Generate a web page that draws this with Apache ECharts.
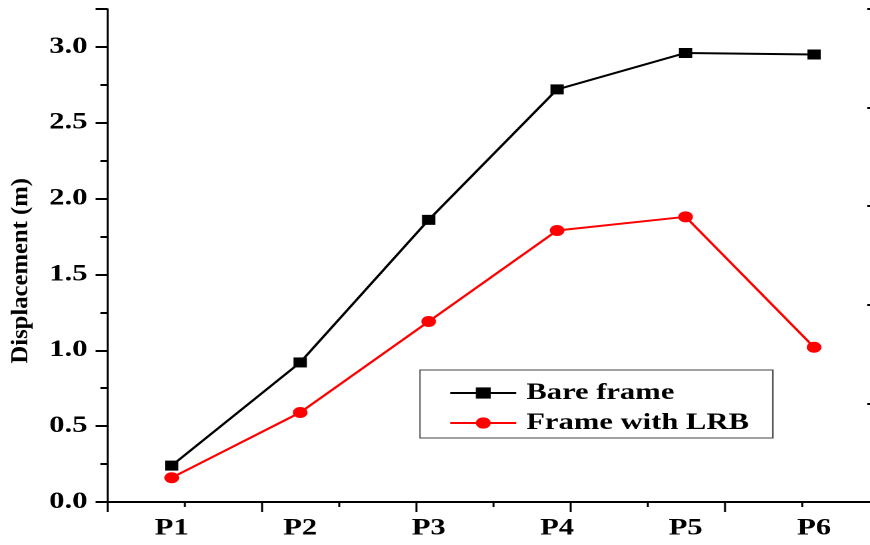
<!DOCTYPE html>
<html>
<head>
<meta charset="utf-8">
<script src="https://cdn.jsdelivr.net/npm/echarts@6/dist/echarts.min.js"></script>
<style>
  html, body { margin: 0; padding: 0; background: #fff; overflow: hidden; }
  /* the reference is a horizontally stretched Origin plot, so draw narrow and stretch */
  #chart { width: 654px; height: 545px; transform: scaleX(1.3303); transform-origin: 0 0; }
</style>
</head>
<body>
<div id="chart"></div>
<script>
const categories = ['P1', 'P2', 'P3', 'P4', 'P5', 'P6']
const bareFrame = [0.24, 0.92, 1.86, 2.72, 2.96, 2.95]
const frameLRB = [0.16, 0.59, 1.19, 1.79, 1.88, 1.02]
const seriesNames = ['Bare frame', 'Frame with LRB']
const yTitle = 'Displacement (m)'

const font = "'Liberation Serif', 'Times New Roman', Times, serif"
const black = '#000'

const chart = echarts.init(document.getElementById('chart'), null, { renderer: 'canvas', devicePixelRatio: 2 })

chart.setOption({
  animation: false,
  backgroundColor: '#fff',
  grid: { left: 80.8, top: 9, width: 579.4, height: 493, outerBoundsMode: 'none', containLabel: false },
  legend: {
    orient: 'vertical',
    left: 315.7, top: 370,
    padding: [11, 18, 3, 21.8],
    itemWidth: 49.6, itemHeight: 14, itemGap: 6,
    borderColor: '#444', borderWidth: 1,
    textStyle: { fontFamily: font, fontWeight: 'bold', fontSize: 23, color: black, lineHeight: 24, padding: [0, 0, 0, 2.5] },
    data: seriesNames
  },
  graphic: [{
    type: 'text', x: 15.8, y: 270.8, rotation: Math.PI / 2, scaleX: 1.37,
    style: { text: yTitle, fontFamily: font, fontWeight: 'bold', fontSize: 18, fill: black, align: 'center', verticalAlign: 'middle' }
  }],
  xAxis: [
    { // bottom axis with labels
      type: 'category', data: categories, position: 'bottom', boundaryGap: true,
      axisLine: { lineStyle: { color: black, width: 2 } },
      axisTick: { alignWithLabel: true, length: 10, lineStyle: { color: black, width: 1.5 } },
      axisLabel: { color: black, fontFamily: font, fontWeight: 'bold', fontSize: 23, margin: 15 },
      splitLine: { show: false }
    },
    { // short ticks between categories
      type: 'category', data: categories, position: 'bottom', boundaryGap: true,
      axisLine: { show: false },
      axisTick: { alignWithLabel: false, length: 5, lineStyle: { color: black, width: 1.5 } },
      axisLabel: { show: false },
      splitLine: { show: false }
    },
    { // top frame axis
      type: 'value', position: 'top', min: 0, max: 5, interval: 1,
      axisLine: { show: true, lineStyle: { color: black, width: 2 } },
      axisTick: { show: true, inside: true, length: 10, lineStyle: { color: black, width: 1.5 } },
      minorTick: { show: true, splitNumber: 2, length: 5, lineStyle: { color: black, width: 1.5 } },
      axisLabel: { show: false },
      splitLine: { show: false }
    }
  ],
  yAxis: [
    {
      type: 'value', position: 'left', min: 0, max: 3.25, interval: 0.5,
      axisLine: { show: true, lineStyle: { color: black, width: 1.5 } },
      axisTick: { show: true, length: 9, lineStyle: { color: black, width: 2 } },
      axisLabel: {
        color: black, fontFamily: font, fontWeight: 'bold', fontSize: 23, margin: 15,
        formatter: v => (Math.abs(v * 2 - Math.round(v * 2)) < 1e-6 ? v.toFixed(1) : '')
      },
      splitLine: { show: false }
    },
    { // minor ticks of the left axis
      type: 'value', position: 'left', min: 0, max: 3.25, interval: 0.25,
      axisLine: { show: false },
      axisTick: { show: true, length: 5.3, lineStyle: { color: black, width: 2 } },
      axisLabel: { show: false },
      splitLine: { show: false }
    },
    { // right frame axis
      type: 'value', position: 'right', min: 0, max: 5, interval: 1,
      axisLine: { show: true, lineStyle: { color: black, width: 1.5 } },
      axisTick: { show: true, inside: true, length: 8.3, lineStyle: { color: black, width: 2 } },
      axisLabel: { show: false },
      splitLine: { show: false }
    }
  ],
  series: [
    {
      name: seriesNames[0], type: 'line', data: bareFrame,
      symbol: 'rect', symbolSize: 10,
      itemStyle: { color: black },
      lineStyle: { color: black, width: 2 }
    },
    {
      name: seriesNames[1], type: 'line', data: frameLRB,
      symbol: 'circle', symbolSize: 11,
      itemStyle: { color: '#ff0000' },
      lineStyle: { color: '#ff0000', width: 2 }
    }
  ]
})
</script>
</body>
</html>
